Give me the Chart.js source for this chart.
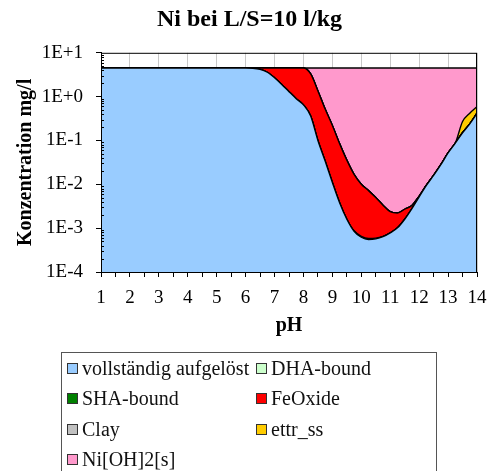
<!DOCTYPE html>
<html>
<head>
<meta charset="utf-8">
<script src="https://cdn.jsdelivr.net/npm/chart.js@4.4.0/dist/chart.umd.min.js"></script>
<style>
  body { margin: 0; background: #fff; overflow: hidden; }
  #wrap { position: relative; width: 487px; height: 471px; }
  #legend { position: absolute; left: 61px; top: 352px; width: 376px; height: 140px;
    border: 1.5px solid #555; box-sizing: border-box;
    font-family: "Liberation Serif", "Times New Roman", serif; font-size: 20px; color: #111; }
  .item { position: absolute; height: 24px; display: flex; align-items: center; white-space: nowrap; }
  .box { width: 9px; height: 9px; border: 1px solid #333; margin-right: 4px; }
</style>
</head>
<body>
<div id="wrap">
  <canvas id="chart" width="487" height="471"></canvas>
  <div id="legend"></div>
</div>
<script>
// pH steps
var pH = [1, 2, 3, 4, 5, 6,
  6.25, 6.5, 6.75, 7, 7.25, 7.5, 7.75, 8, 8.25, 8.5, 8.75, 9, 9.25, 9.5, 9.75, 10,
  10.25, 10.5, 10.75, 11, 11.25, 11.5, 11.75, 12, 12.25, 12.5, 12.75, 13, 13.25, 13.5, 13.75, 14];

// concentrations in mg/l per species (stacked)
var aufgeloest = [4.5, 4.5, 4.5, 4.5, 4.5, 4.5,
  4.45, 4.2, 3.6, 2.7, 1.9, 1.3, 0.9, 0.65, 0.36, 0.10, 0.034, 0.011, 0.0038, 0.0016, 0.00085, 0.00062,
  0.00055, 0.00057, 0.00064, 0.00078, 0.00102, 0.0016, 0.0028, 0.0052, 0.0095, 0.016, 0.028, 0.052, 0.087, 0.15, 0.24, 0.42];
var dhaBound = [0, 0, 0, 0, 0, 0,
  0, 0, 0, 0, 0, 0, 0, 0, 0, 0, 0, 0, 0, 0, 0, 0,
  0, 0, 0, 0, 0, 0, 0, 0, 0, 0, 0, 0, 0, 0, 0, 0];
var shaBound = [0, 0, 0, 0, 0, 0,
  0, 0, 0, 0, 0, 0, 0, 0, 0, 0, 0, 0, 0, 0, 0.00002, 0.00003,
  0.00003, 0.00002, 0.00001, 0, 0, 0, 0, 0, 0, 0, 0, 0, 0, 0, 0, 0];
var feOxide = [0, 0, 0, 0, 0, 0,
  0.05, 0.3, 0.9, 1.8, 2.6, 3.2, 3.6, 3.85, 2.94, 1.25, 0.486, 0.209, 0.081, 0.034, 0.016, 0.0094,
  0.0066, 0.0044, 0.0027, 0.0016, 0.0012, 0.0011, 0.0005, 0.0002, 0.00005, 0, 0, 0, 0, 0, 0, 0];
var clay = [0, 0, 0, 0, 0, 0,
  0, 0, 0, 0, 0, 0, 0, 0, 0, 0, 0, 0, 0, 0, 0, 0,
  0, 0, 0, 0, 0, 0, 0, 0, 0, 0, 0, 0, 0, 0, 0, 0];
var ettrSs = [0, 0, 0, 0, 0, 0,
  0, 0, 0, 0, 0, 0, 0, 0, 0, 0, 0, 0, 0, 0, 0, 0,
  0, 0, 0, 0, 0, 0, 0, 0, 0, 0, 0, 0, 0, 0.12, 0.18, 0.17];
var niOH2 = [0, 0, 0, 0, 0, 0,
  0, 0, 0, 0, 0, 0, 0, 0, 1.2, 3.15, 3.98, 4.28, 4.415, 4.464, 4.483, 4.49,
  4.493, 4.495, 4.497, 4.498, 4.498, 4.497, 4.497, 4.495, 4.49, 4.484, 4.47, 4.45, 4.41, 4.23, 4.08, 3.91];

var seriesNames = ['vollständig aufgelöst', 'DHA-bound', 'SHA-bound', 'FeOxide', 'Clay', 'ettr_ss', 'Ni[OH]2[s]'];
var seriesData = [aufgeloest, dhaBound, shaBound, feOxide, clay, ettrSs, niOH2];
var seriesColors = ['#99CCFF', '#CCFFCC', '#008000', '#FF0000', '#C0C0C0', '#FFCC00', '#FF99CC'];
var yTicks = [1e-4, 1e-3, 1e-2, 1e-1, 1, 10];

var serif = '"Liberation Serif", "Times New Roman", serif';

// log axis can't take 0, so zero layers get a tiny floor
var datasets = seriesData.map(function(arr, i) {
  return {
    label: seriesNames[i],
    data: arr.map(function(v) { return v > 0 ? v : 1e-12; }),
    backgroundColor: seriesColors[i],
    borderColor: '#000',
    borderWidth: 1.4,
    fill: i === 0 ? 'start' : '-1',
    pointRadius: 0,
    cubicInterpolationMode: 'monotone'
  };
});

var frame = {
  id: 'frame',
  afterDatasetsDraw: function(chart) {
    var ctx = chart.ctx, a = chart.chartArea, y = chart.scales.y;
    ctx.save();
    ctx.strokeStyle = '#000';
    ctx.lineWidth = 1;
    ctx.beginPath();
    // minor log ticks, inside
    for (var d = -4; d < 1; d++) {
      for (var m = 2; m < 10; m++) {
        var py = Math.round(y.getPixelForValue(m * Math.pow(10, d))) + 0.5;
        ctx.moveTo(a.left, py);
        ctx.lineTo(a.left + 3, py);
      }
    }
    ctx.stroke();
    ctx.strokeRect(a.left + 0.5, a.top + 0.5, a.right - a.left - 1, a.bottom - a.top);
    ctx.restore();
  }
};

var cnvs = document.getElementById('chart');
var chart = new Chart(cnvs, {
  type: 'line',
  data: { labels: pH, datasets: datasets },
  options: {
    responsive: false,
    animation: false,
    layout: { padding: { left: 22, right: 10, top: 0, bottom: 129 } },
    plugins: {
      legend: { display: false },
      tooltip: { enabled: false },
      title: {
        display: true,
        text: 'Ni bei L/S=10 l/kg',
        color: '#000',
        font: { family: serif, size: 24, weight: 'bold' },
        padding: { top: 5, bottom: 19 }
      }
    },
    scales: {
      x: {
        type: 'linear',
        min: 1,
        max: 14,
        afterFit: function(s) { s.height = 70; s.paddingLeft = 0; s.paddingRight = 0; },
        ticks: {
          stepSize: 0.5,
          autoSkip: false,
          maxRotation: 0,
          padding: 10,
          color: '#000',
          font: { family: serif, size: 19 },
          callback: function(v) { return Number.isInteger(v) ? String(v) : ''; }
        },
        grid: {
          drawOnChartArea: true,
          tickLength: 5,
          tickColor: '#000',
          color: function(c) { return c.tick && Number.isInteger(c.tick.value) ? '#c8c8c8' : 'rgba(0,0,0,0)'; }
        },
        border: { color: '#000' },
        title: {
          display: true,
          text: 'pH',
          color: '#000',
          font: { family: serif, size: 20, weight: 'bold' },
          padding: { top: 0, bottom: 4 }
        }
      },
      y: {
        type: 'logarithmic',
        stacked: true,
        min: 1e-4,
        max: 10,
        afterFit: function(s) { s.width = 79; s.paddingTop = 0; s.paddingBottom = 0; },
        afterBuildTicks: function(s) {
          s.ticks = yTicks.map(function(v) { return { value: v }; });
        },
        ticks: {
          autoSkip: false,
          padding: 13,
          color: '#000',
          font: { family: serif, size: 19 },
          callback: function(v) {
            var e = Math.round(Math.log10(v));
            return '1E' + (e < 0 ? '-' : '+') + Math.abs(e);
          }
        },
        grid: { drawOnChartArea: false, tickLength: 5, tickColor: '#000' },
        border: { color: '#000' },
        title: {
          display: true,
          text: 'Konzentration mg/l',
          color: '#000',
          font: { family: serif, size: 20, weight: 'bold' },
          padding: { top: -8, bottom: 0 }
        }
      }
    }
  },
  plugins: [frame]
});

// legend in two columns like the original
var legend = document.getElementById('legend');
seriesNames.forEach(function(name, i) {
  var item = document.createElement('div');
  item.className = 'item';
  item.style.left = (i % 2 === 0 ? 5 : 194) + 'px';
  item.style.top = (3 + Math.floor(i / 2) * 30.5) + 'px';
  var box = document.createElement('span');
  box.className = 'box';
  box.style.background = seriesColors[i];
  var txt = document.createElement('span');
  txt.textContent = name;
  item.appendChild(box);
  item.appendChild(txt);
  legend.appendChild(item);
});
</script>
</body>
</html>
